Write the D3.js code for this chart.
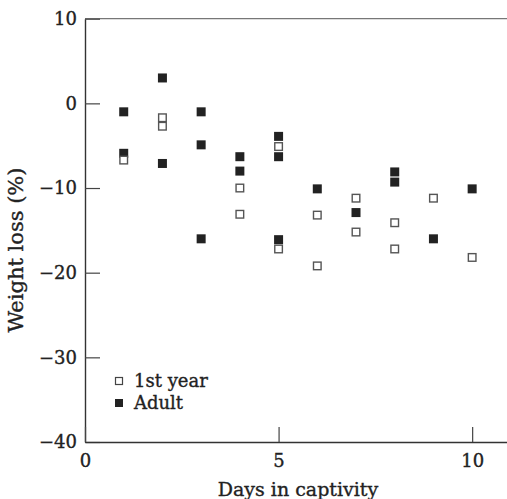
<!DOCTYPE html>
<html>
<head>
<meta charset="utf-8">
<script src="https://cdn.jsdelivr.net/npm/d3@7"></script>
<style>
  body { margin: 0; background: #fff; }
  svg { display: block; font-family: "DejaVu Serif", serif; }
  text { stroke: #222; stroke-width: 0.35px; }
</style>
</head>
<body>
<svg id="chart" width="507" height="499"></svg>
<script>
// --- DATA ---
const firstYearDays = [1, 2, 2, 4, 4, 5, 5, 6, 6, 7, 7, 8, 8, 9, 10];
const firstYearLoss = [-6.7, -1.7, -2.7, -10.0, -13.1, -5.1, -17.2, -13.2, -19.2, -11.2, -15.2, -14.1, -17.2, -11.2, -18.2];
const adultDays = [1, 1, 2, 2, 3, 3, 3, 4, 4, 5, 5, 5, 6, 7, 8, 8, 9, 10];
const adultLoss = [-1.0, -5.9, 3.0, -7.1, -1.0, -4.9, -16.0, -6.3, -8.0, -3.9, -6.3, -16.1, -10.1, -12.9, -8.1, -9.3, -16.0, -10.1];
const xTicks = [0, 5, 10];
const yTicks = [-40, -30, -20, -10, 0, 10];

// --- CONFIG ---
const LEFT = 85, RIGHT = 507, TOP = 18.7, BOTTOM = 442;
const MARK = 9;
const INK = "#222";

const svg = d3.select("#chart");
const x = d3.scaleLinear().domain([0, 10.9]).range([LEFT, RIGHT]);
const y = d3.scaleLinear().domain([-40, 10]).range([BOTTOM, TOP]);

// top frame line
svg.append("line")
  .attr("x1", LEFT).attr("x2", RIGHT)
  .attr("y1", TOP).attr("y2", TOP)
  .attr("stroke", "#777").attr("stroke-width", 1.3);

// axes
const yAxis = svg.append("g")
  .attr("transform", `translate(${LEFT},0)`)
  .call(d3.axisLeft(y).tickValues(yTicks).tickSizeInner(-15).tickSizeOuter(0).tickPadding(8));

const xAxis = svg.append("g")
  .attr("transform", `translate(0,${BOTTOM})`)
  .call(d3.axisBottom(x).tickValues(xTicks).tickSizeInner(-15).tickSizeOuter(0).tickPadding(12));

[yAxis, xAxis].forEach(a => {
  a.select(".domain").attr("stroke", "#333").attr("stroke-width", 1.4);
  a.selectAll(".tick line").attr("stroke", "#444").attr("stroke-width", 1.2);
  a.selectAll(".tick text")
    .attr("fill", INK)
    .style("font-family", "DejaVu Serif, serif")
    .style("font-size", "18px");
});

// axis titles
svg.append("text")
  .attr("x", 298).attr("y", 496)
  .attr("text-anchor", "middle")
  .attr("fill", INK)
  .style("font-size", "19px")
  .text("Days in captivity");

svg.append("text")
  .attr("transform", "translate(23,250) rotate(-90)")
  .attr("text-anchor", "middle")
  .attr("fill", INK)
  .style("font-size", "21px")
  .text("Weight loss (%)");

// points
const firstYear = firstYearDays.map((d, i) => ({ day: d, loss: firstYearLoss[i] }));
const adult = adultDays.map((d, i) => ({ day: d, loss: adultLoss[i] }));

svg.append("g").selectAll("rect")
  .data(adult).enter().append("rect")
  .attr("x", d => x(d.day) - MARK / 2)
  .attr("y", d => y(d.loss) - MARK / 2)
  .attr("width", MARK).attr("height", MARK)
  .attr("fill", INK);

svg.append("g").selectAll("rect")
  .data(firstYear).enter().append("rect")
  .attr("x", d => x(d.day) - (MARK - 1.4) / 2)
  .attr("y", d => y(d.loss) - (MARK - 1.4) / 2)
  .attr("width", MARK - 1.4).attr("height", MARK - 1.4)
  .attr("fill", "#fff")
  .attr("stroke", "#555").attr("stroke-width", 1.4);

// legend
const legend = svg.append("g");
legend.append("rect")
  .attr("x", 115.5).attr("y", 377.5).attr("width", 7).attr("height", 7)
  .attr("fill", "#fff").attr("stroke", "#444").attr("stroke-width", 1.2);
legend.append("rect")
  .attr("x", 115).attr("y", 399).attr("width", 8).attr("height", 8)
  .attr("fill", INK);
legend.append("text")
  .attr("x", 134).attr("y", 387)
  .attr("fill", INK).style("font-size", "18px")
  .text("1st year");
legend.append("text")
  .attr("x", 134).attr("y", 409)
  .attr("fill", INK).style("font-size", "18px")
  .text("Adult");
</script>
</body>
</html>
